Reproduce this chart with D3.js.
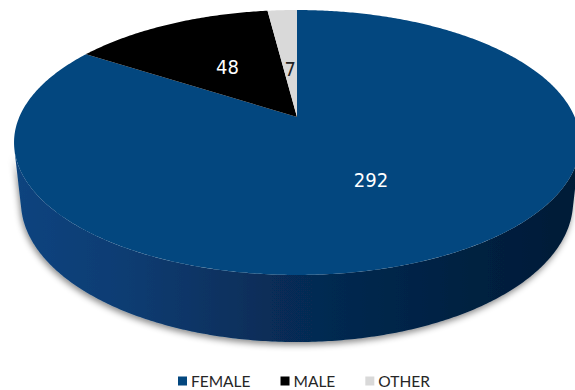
<!DOCTYPE html>
<html>
<head>
<meta charset="utf-8">
<script src="https://cdn.jsdelivr.net/npm/d3@7"></script>
<style>
  html, body { margin: 0; padding: 0; background: #ffffff; }
  svg { display: block; }
</style>
</head>
<body>
<svg id="chart" width="575" height="390"></svg>
<script>
// Respondents by gender
const categories = ["FEMALE", "MALE", "OTHER"];
const values = [292, 48, 7];
const topColors = ["#03477f", "#000000", "#d9d9d9"];
const labelColors = ["#ffffff", "#ffffff", "#222222"];

const W = 575, H = 390;
const svg = d3.select("#chart");

// Perspective camera for the 3D disc (unit distance from camera to disc centre)
const cam = {
  cx: 297, cy: 117,       // screen position of the disc centre
  f: 1282,                // focal length
  R: 0.2166,              // disc radius
  depth: 0.0523,          // disc thickness
  tilt: Math.asin(0.4594) // elevation of the camera
};
const cosT = Math.cos(cam.tilt), sinT = Math.sin(cam.tilt);

// World: X right, Y up, Z away from viewer. Angle 0 = 12 o'clock, clockwise.
function project(X, Y, Z) {
  const yc = Y * cosT + Z * sinT;
  const zc = 1 + Z * cosT - Y * sinT;
  return [cam.cx + cam.f * X / zc, cam.cy - cam.f * yc / zc];
}
function rim(theta, Y, k = 1) {
  return project(cam.R * k * Math.sin(theta), Y, cam.R * k * Math.cos(theta));
}

const pie = d3.pie().sort(null).value(d => d.value);
const arcs = pie(categories.map((c, i) => ({ name: c, value: values[i], i })));

function sample(a0, a1, Y) {
  const n = Math.max(2, Math.ceil(Math.abs(a1 - a0) / 0.01));
  return d3.range(n + 1).map(j => rim(a0 + (a1 - a0) * j / n, Y));
}
const line = d3.line();

const defs = svg.append("defs");
const shadow = defs.append("filter").attr("id", "shadow")
  .attr("x", "-10%").attr("y", "-10%").attr("width", "120%").attr("height", "130%");
shadow.append("feDropShadow")
  .attr("dx", -1).attr("dy", 3).attr("stdDeviation", 3)
  .attr("flood-color", "#000").attr("flood-opacity", 0.45);

const wallGrad = defs.append("linearGradient").attr("id", "wall")
  .attr("gradientUnits", "userSpaceOnUse")
  .attr("x1", 14).attr("x2", 580).attr("y1", 0).attr("y2", 0);
[[0, "#0b447f"], [0.2, "#0a3c72"], [0.45, "#072d58"], [0.7, "#042447"], [1, "#021b36"]]
  .forEach(([o, c]) => wallGrad.append("stop").attr("offset", o).attr("stop-color", c));

const disc = svg.append("g");

// Outer wall: only the part that faces the camera
const faceLimit = Math.acos(-cam.R / cosT);          // silhouette angle
const visA = faceLimit, visB = 2 * Math.PI - faceLimit;
const walls = disc.append("g").attr("filter", "url(#shadow)");
arcs.forEach(a => {
  const a0 = Math.max(a.startAngle, visA), a1 = Math.min(a.endAngle, visB);
  if (a1 <= a0) return;
  const top = sample(a0, a1, 0);
  const bottom = sample(a1, a0, -cam.depth);
  walls.append("path")
    .attr("d", line(top.concat(bottom)) + "Z")
    .attr("fill", a.index === 0 ? "url(#wall)" : d3.color(topColors[a.index]).darker(1));
});

// Top faces
const centre = project(0, 0, 0);
disc.append("g").selectAll("path").data(arcs).join("path")
  .attr("d", a => line([centre].concat(sample(a.startAngle, a.endAngle, 0))) + "Z")
  .attr("fill", a => topColors[a.index]);

// Value labels
const total = d3.sum(values);
disc.append("g").selectAll("text").data(arcs).join("text")
  .each(function (a) {
    const mid = (a.startAngle + a.endAngle) / 2;
    const k = a.value / total < 0.05 ? 0.41 : 0.51;
    const [x, y] = rim(mid, 0, k);
    d3.select(this).attr("x", x).attr("y", y);
  })
  .attr("text-anchor", "middle")
  .attr("dy", "0.38em")
  .attr("font-family", "'DejaVu Sans Condensed', 'DejaVu Sans', sans-serif")
  .attr("font-size", 20)
  .attr("fill", a => labelColors[a.index])
  .text(a => a.value);

// Legend
const legend = svg.append("g").attr("font-family", "Lato, 'Open Sans', sans-serif")
  .attr("font-size", 15.5).attr("fill", "#262626");
let lx = 178;
const ly = 381;
categories.forEach((c, i) => {
  legend.append("rect").attr("x", lx).attr("y", ly - 4.5).attr("width", 9).attr("height", 9)
    .attr("fill", topColors[i]);
  const t = legend.append("text").attr("x", lx + 13).attr("y", ly).attr("dy", "0.36em").text(c);
  lx += 13 + t.node().getComputedTextLength() + 30;
});
</script>
</body>
</html>
